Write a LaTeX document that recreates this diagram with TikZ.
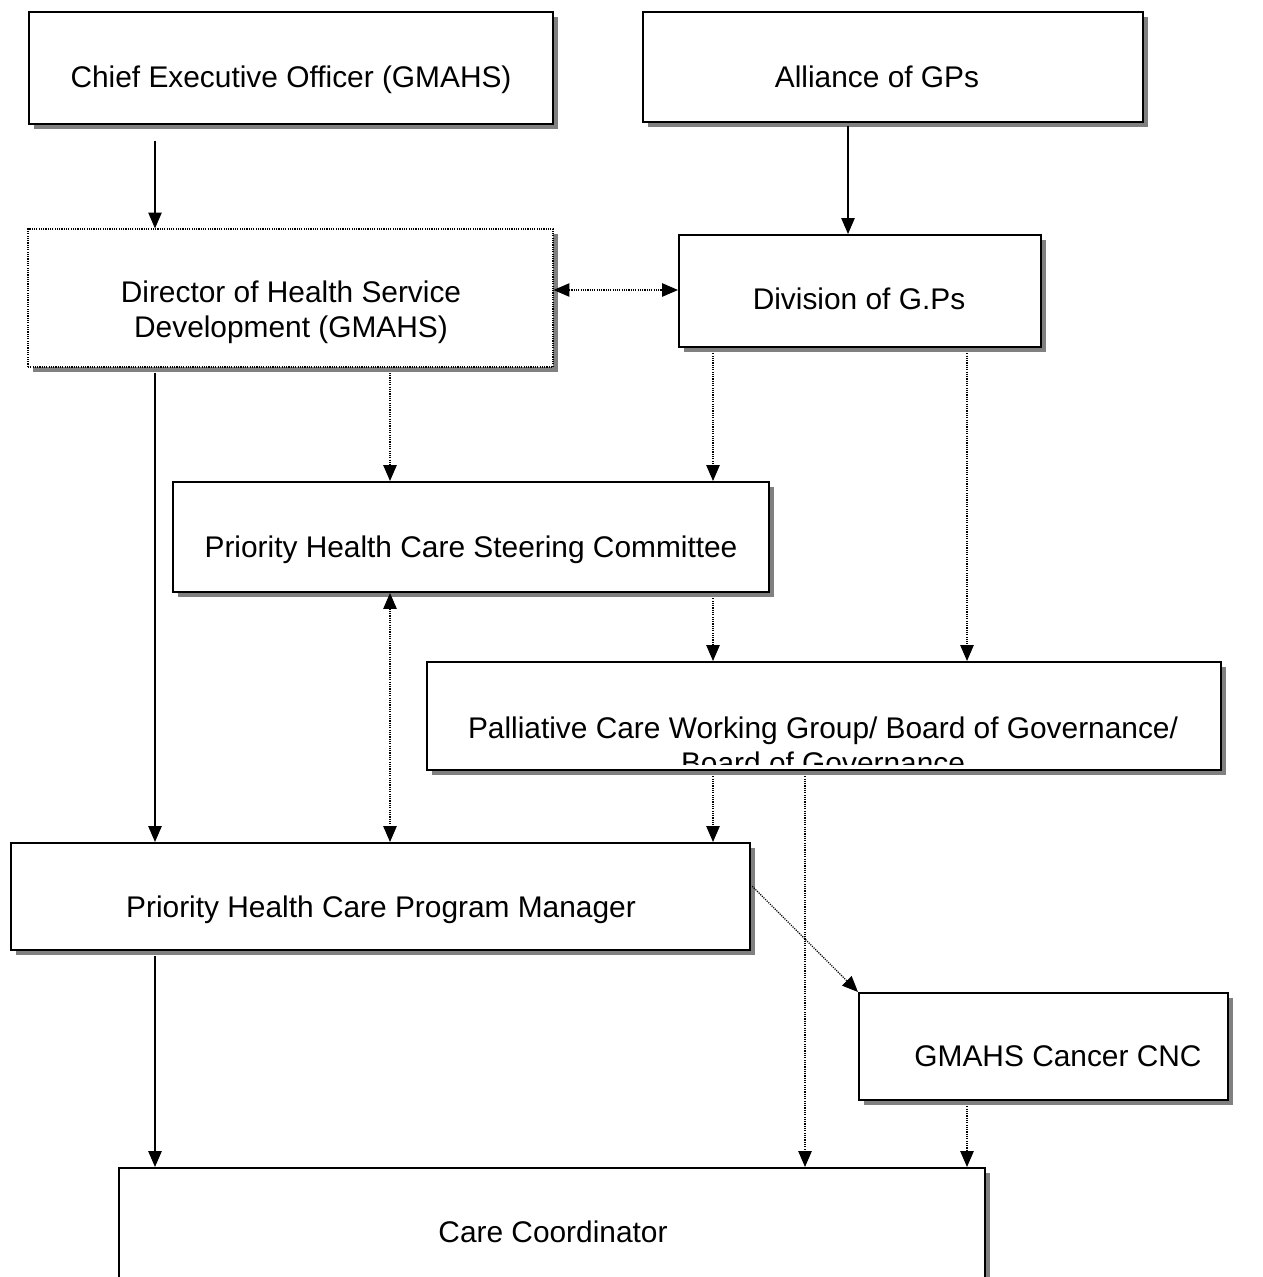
\documentclass[tikz,border=0pt]{standalone}
\usepackage{fontspec}
\setmainfont{Liberation Sans}
\usetikzlibrary{arrows.meta,fit,shadows}
\definecolor{shadowgray}{HTML}{808080}

\begin{document}
\begin{tikzpicture}[x=0.02cm,y=-0.02cm,
  box/.style={draw, line width=1.15pt, fill=white, inner sep=0pt,
    drop shadow={shadow xshift=2.9pt, shadow yshift=-2.9pt, fill=shadowgray, opacity=1}},
  dotbox/.style={box, line width=0.65pt, dash pattern=on 0.65pt off 0.65pt},
  txt/.style={anchor=base, inner sep=0pt, align=center, font=\fontsize{17}{19.85}\selectfont},
  link/.style={line width=0.65pt, -{Triangle[length=9pt,width=7.6pt]}, shorten <=3pt},
  dotlink/.style={link, dash pattern=on 0.65pt off 0.65pt},
  twoway/.style={line width=0.65pt, {Triangle[length=9pt,width=7.6pt]}-{Triangle[length=9pt,width=7.6pt]}, dash pattern=on 0.65pt off 0.65pt}]
\useasboundingbox (0,0) rectangle (1263,1277);

% boxes
\node[box, fit={(29,12) (553,124)}] (ceo) {};
\node[box, fit={(643,12) (1143,122)}] (all) {};
\node[dotbox, fit={(28,229) (553,367)}] (dir) {};
\node[box, fit={(679,235) (1041,347)}] (div) {};
\node[box, fit={(173,482) (769,592)}] (steer) {};
\node[box, fit={(427,662) (1221,770)}] (pall) {};
\node[box, fit={(11,843) (750,950)}] (pm) {};
\node[box, fit={(859,993) (1228,1100)}] (cnc) {};
\node[box, fit={(119,1168) (985,1280)}] (cc) {};

% texts
\node[txt] (ceotext) at (291,88) {Chief Executive Officer (GMAHS)};
\node[txt] (alltext) at (877,88) {Alliance of GPs};
\node[txt, anchor=center] (dirtext) at (291,312) {Director of Health Service\\Development (GMAHS)};
\node[txt] (divtext) at (859,309) {Division of G.Ps};
\node[txt] (steertext) at (471,557) {Priority Health Care Steering Committee};
\begin{scope}
  \clip (428,663) rectangle (1220,764);
  \node[txt, anchor=center] (palltext) at (823,745) {Palliative Care Working Group/ Board of Governance/\\Board of Governance};
\end{scope}
\node[txt] (pmtext) at (381,917) {Priority Health Care Program Manager};
\node[txt] (cnctext) at (1058,1066) {GMAHS Cancer CNC};
\node[txt] (cctext) at (553,1242) {Care Coordinator};

% columns and rows for the connectors
\coordinate (xa) at (155,0);
\coordinate (xb) at (390,0);
\coordinate (xc) at (713,0);
\coordinate (xd) at (805,0);
\coordinate (xe) at (848,0);
\coordinate (xf) at (967,0);
\coordinate (ya) at (0,290);
\coordinate (yb) at (0,885);

% connectors
\draw[link, shorten <=9pt] (xa |- ceo.south) -- (xa |- dir.north);
\draw[link, shorten <=1.5pt] (xe |- all.south) -- (xe |- div.north);
\draw[twoway] (dir.east |- ya) -- (div.west |- ya);
\draw[link] (xa |- dir.south) -- (xa |- pm.north);
\draw[dotlink] (xb |- dir.south) -- (xb |- steer.north);
\draw[dotlink] (xc |- div.south) -- (xc |- steer.north);
\draw[dotlink] (xf |- div.south) -- (xf |- pall.north);
\draw[dotlink] (xc |- steer.south) -- (xc |- pall.north);
\draw[twoway] (xb |- steer.south) -- (xb |- pm.north);
\draw[dotlink] (xc |- pall.south) -- (xc |- pm.north);
\draw[dotlink] (xd |- pall.south) -- (xd |- cc.north);
\draw[dotlink, shorten <=1pt] (pm.east |- yb) -- (cnc.north west);
\draw[link] (xa |- pm.south) -- (xa |- cc.north);
\draw[dotlink] (xf |- cnc.south) -- (xf |- cc.north);
\end{tikzpicture}
\end{document}
